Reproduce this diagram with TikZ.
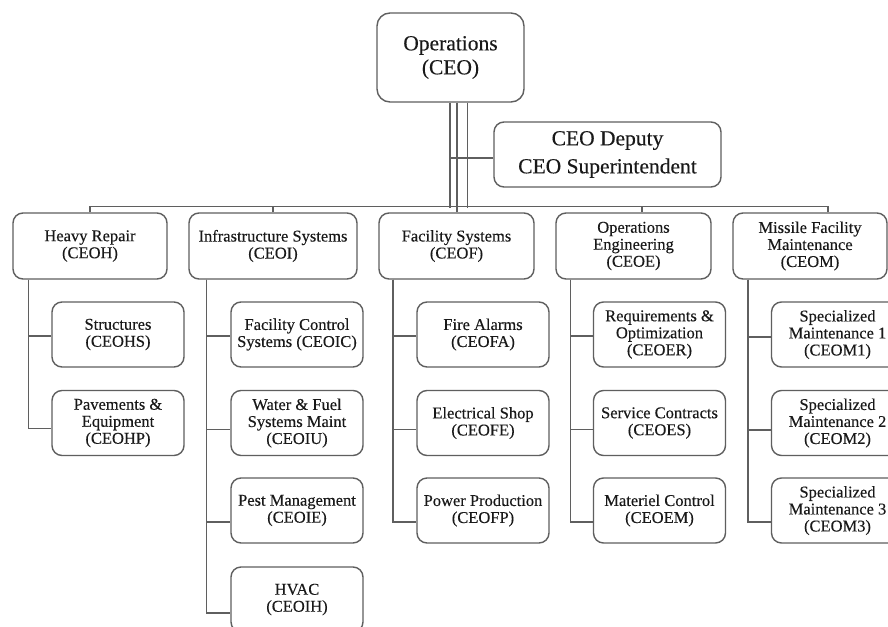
\documentclass[tikz,border=0pt]{standalone}
\usepackage{fontspec}
\setmainfont{Liberation Serif}[FakeBold=0.25]
\definecolor{ln}{RGB}{95,95,95}
\definecolor{tx}{RGB}{25,25,25}
\begin{document}
\begin{tikzpicture}[x=1pt,y=-1pt,
  box/.style={draw=ln, line width=1.4pt, rounded corners=10pt, align=center, text=tx, inner sep=0pt, font=\fontsize{16.5}{17}\selectfont},
  lvl/.style={box, minimum width=155pt, minimum height=66pt},
  kid/.style={box, minimum width=132pt, minimum height=65pt},
  conn/.style={draw=ln, line width=1.5pt}]
\useasboundingbox (0,0) rectangle (888,626);
\clip (0,0) rectangle (888,626);
\fill[white] (0,0) rectangle (888,626);

% top
\node[box, rounded corners=13pt, minimum width=147pt, minimum height=89pt, font=\fontsize{21.5}{24}\selectfont] (op) at (450.5,57.5) {Operations\\(CEO)};
\node[box, minimum width=227pt, minimum height=65pt, font=\fontsize{21.5}{28}\selectfont] (dep) at (607.5,154.5) {CEO Deputy\\CEO Superintendent};

% level 2
\node[lvl, minimum width=154pt] (hr) at (90,246) {Heavy Repair\\(CEOH)};
\node[lvl, minimum width=168pt] (inf) at (273,246) {Infrastructure Systems\\(CEOI)};
\node[lvl] (fac) at (456.5,246) {Facility Systems\\(CEOF)};
\node[lvl] (oe) at (633.5,246) {Operations\\Engineering\\(CEOE)};
\node[lvl, minimum width=154pt] (mf) at (810,246) {Missile Facility\\Maintenance\\(CEOM)};

% children
\node[kid] (hr1) at (118,334.5) {Structures\\(CEOHS)};
\node[kid] (hr2) at (118,423) {Pavements \&\\Equipment\\(CEOHP)};

\node[kid] (inf1) at (297,334.5) {Facility Control\\Systems (CEOIC)};
\node[kid] (inf2) at (297,423) {Water \& Fuel\\Systems Maint\\(CEOIU)};
\node[kid] (inf3) at (297,510.5) {Pest Management\\(CEOIE)};
\node[kid] (inf4) at (297,599.5) {HVAC\\(CEOIH)};

\node[kid] (fac1) at (483,334.5) {Fire Alarms\\(CEOFA)};
\node[kid] (fac2) at (483,423) {Electrical Shop\\(CEOFE)};
\node[kid] (fac3) at (483,510.5) {Power Production\\(CEOFP)};

\node[kid] (oe1) at (659.5,334.5) {Requirements \&\\Optimization\\(CEOER)};
\node[kid] (oe2) at (659.5,423) {Service Contracts\\(CEOES)};
\node[kid] (oe3) at (659.5,510.5) {Materiel Control\\(CEOEM)};

\node[kid] (mf1) at (837.5,334.5) {Specialized\\Maintenance 1\\(CEOM1)};
\node[kid] (mf2) at (837.5,423) {Specialized\\Maintenance 2\\(CEOM2)};
\node[kid] (mf3) at (837.5,510.5) {Specialized\\Maintenance 3\\(CEOM3)};

% top connectors
\draw[conn] ([xshift=-0.5pt]op.south) -- ++(0,105);
\draw[conn] ([xshift=6.5pt]op.south) -- ++(0,105);
\draw[conn] ([xshift=17pt]op.south) -- ++(0,105);
\draw[conn] ([yshift=-3.5pt]dep.west) -- ++(-44,0);

% bar and ticks
\draw[conn] ([yshift=6pt]hr.north) -- ([xshift=18pt,yshift=6pt]mf.north);
\draw[conn] (hr.north) -- ++(0,-6);
\draw[conn] (inf.north) -- ++(0,-6);
\draw[conn] ([xshift=0.5pt]fac.north) -- ++(0,-6);
\draw[conn] ([xshift=8.5pt]oe.north) -- ++(0,-6);
\draw[conn] ([xshift=18pt]mf.north) -- ++(0,-6);

% child connectors
\draw[conn] ([xshift=16pt]hr.south west) |- ([yshift=-1.5pt]hr1.west);
\draw[conn] ([xshift=16pt]hr.south west) |- ([yshift=-5.5pt]hr2.west);

\draw[conn] ([xshift=18pt]inf.south west) |- ([yshift=-1.5pt]inf1.west);
\draw[conn] ([xshift=18pt]inf.south west) |- ([yshift=-6.5pt]inf2.west);
\draw[conn] ([xshift=18pt]inf.south west) |- ([yshift=-11.5pt]inf3.west);
\draw[conn] ([xshift=18pt]inf.south west) |- ([yshift=-13.5pt]inf4.west);

\draw[conn] ([xshift=14.5pt]fac.south west) |- ([yshift=-1.5pt]fac1.west);
\draw[conn] ([xshift=14.5pt]fac.south west) |- ([yshift=-6.5pt]fac2.west);
\draw[conn] ([xshift=14.5pt]fac.south west) |- ([yshift=-11.5pt]fac3.west);

\draw[conn] ([xshift=15pt]oe.south west) |- ([yshift=-1.5pt]oe1.west);
\draw[conn] ([xshift=15pt]oe.south west) |- ([yshift=-6.5pt]oe2.west);
\draw[conn] ([xshift=15pt]oe.south west) |- ([yshift=-11.5pt]oe3.west);

\draw[conn] ([xshift=15.5pt]mf.south west) |- ([yshift=-2.5pt]mf1.west);
\draw[conn] ([xshift=15.5pt]mf.south west) |- ([yshift=-7pt]mf2.west);
\draw[conn] ([xshift=15.5pt]mf.south west) |- ([yshift=-11.5pt]mf3.west);
\end{tikzpicture}
\end{document}
